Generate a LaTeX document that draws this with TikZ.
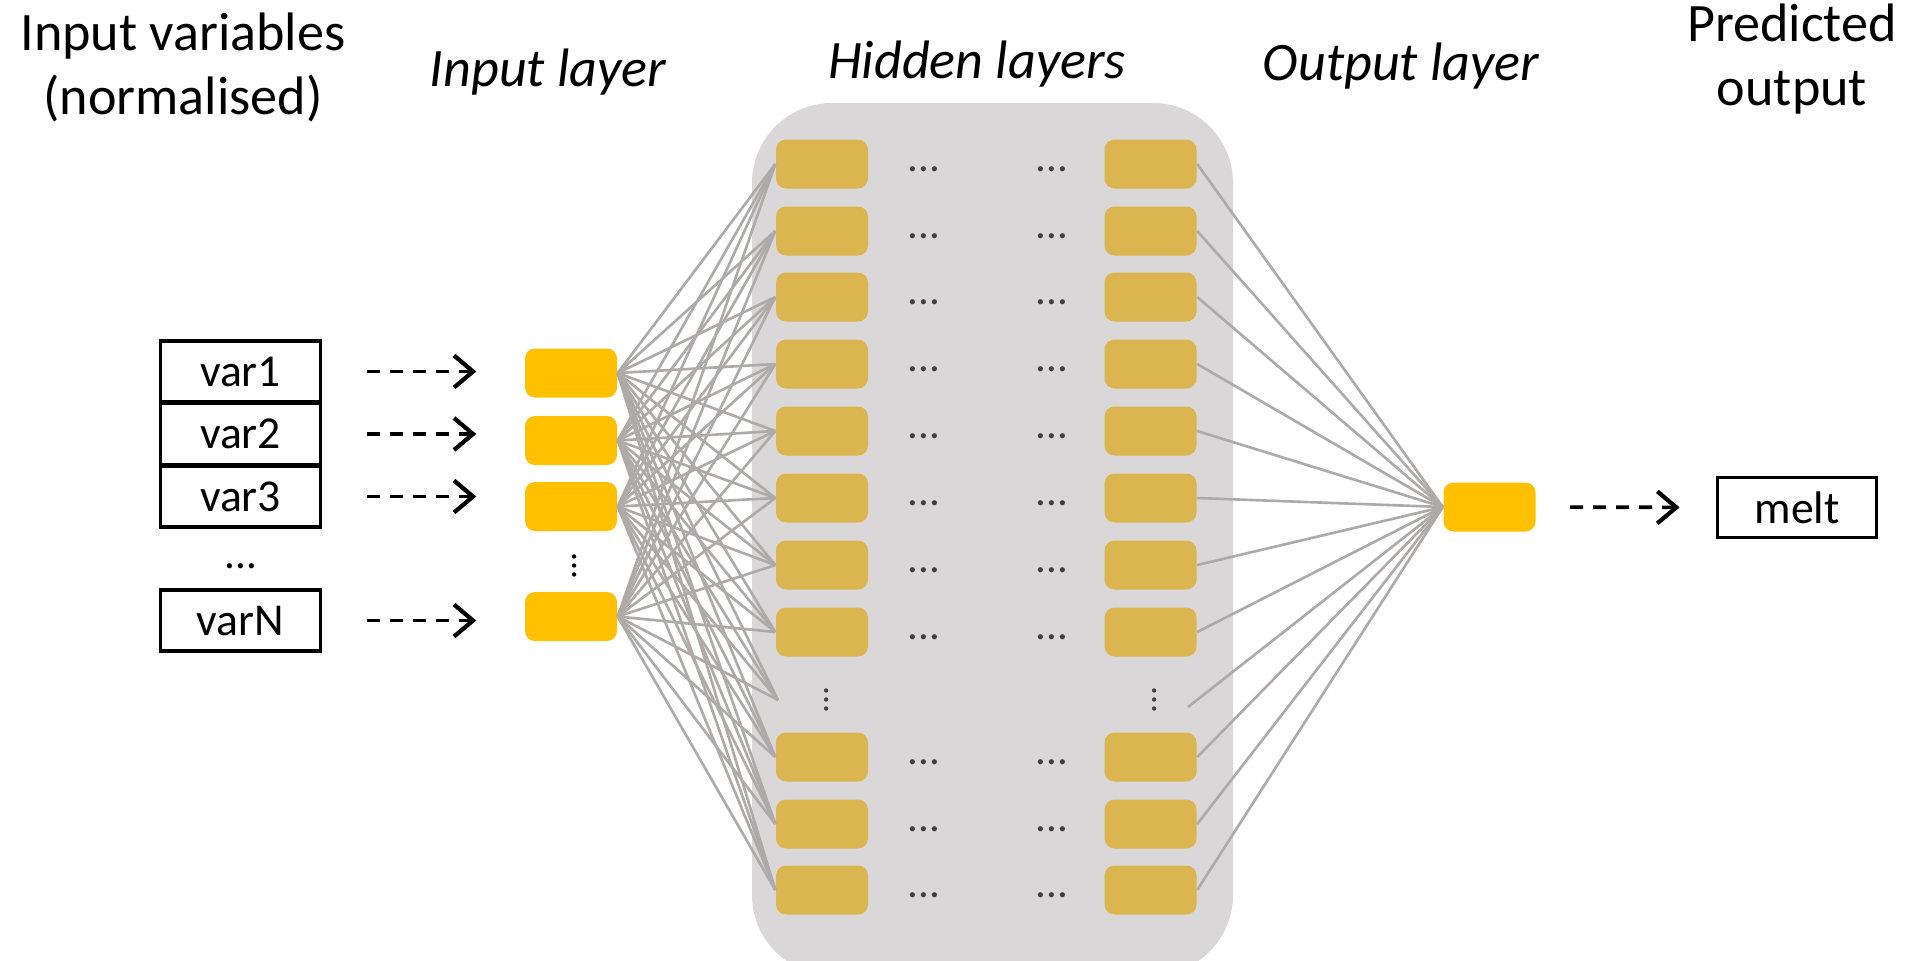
\documentclass[tikz,border=0pt]{standalone}
\usepackage{fontspec}
\setmainfont{Carlito}
\usepackage{tikz}
\usetikzlibrary{arrows.meta}

\definecolor{inyellow}{RGB}{255,192,0}
\definecolor{hidgold}{RGB}{219,182,80}
\definecolor{panelgrey}{RGB}{217,215,216}
\definecolor{linkgrey}{RGB}{174,170,170}
\definecolor{dotgrey}{RGB}{64,64,64}

\begin{document}
\begin{tikzpicture}[x=1cm, y=-1cm,
    varbox/.style={draw=black, line width=1.1pt, minimum width=1.60cm, minimum height=0.61cm, inner sep=0pt, font=\fontsize{13}{15}\selectfont},
    inunit/.style={fill=inyellow, rounded corners=0.1cm, minimum width=0.92cm, minimum height=0.49cm, inner sep=0pt},
    hidunit/.style={inunit, fill=hidgold},
    link/.style={linkgrey, line width=0.75pt},
    feed/.style={line width=1.05pt, dash pattern=on 1.3mm off 1mm, -{Straight Barb[length=1.9mm, width=3.2mm, line width=1.2pt]}},
    title/.style={font=\fontsize{15.4}{18.4}\selectfont, align=center, inner sep=0pt},
    etc/.style={font=\fontsize{12.2}{13}\selectfont, inner sep=0pt, text=dotgrey},
]

\useasboundingbox (0,0) rectangle (19.11,9.60);

% grey panel behind the hidden layers
\fill[panelgrey, rounded corners=0.8cm] (7.52,1.03) rectangle (12.33,9.75);

% titles
{
\node[title, anchor=north] (tvars) at (1.83,0.12) {Input variables\\(normalised)};
\node[title, anchor=base] (tin) at (5.48,0.86) {\itshape Input layer};
\node[title, anchor=base] (thid) at (9.77,0.78) {\itshape Hidden layers};
\node[title, anchor=base] (tout) at (14.01,0.80) {\itshape Output layer};
\node[title, anchor=north] (tpred) at (17.92,0.03) {Predicted\\output};
}

% input variables and input layer
\foreach \i/\lab/\y/\u in {1/var1/3.715/3.73, 2/var2/4.34/4.405, 3/var3/4.965/5.065, 4/varN/6.205/6.165}{
    \node[varbox] (v\i) at (2.405,\y) {\lab};
    \node[inunit] (in\i) at (5.71,\u) {};
    \draw[feed, shorten <=0.45cm, shorten >=0.48cm] (v\i.east) -- (v\i.east -| in\i.west);
}

\node[etc, text=black] (vdots) at (2.41,5.66) {...};
\node[etc, text=black, rotate=90, font=\fontsize{10.2}{11}\selectfont] (indots) at (5.75,5.66) {...};

% hidden layers
\foreach \j/\y in {1/1.64, 2/2.31, 3/2.97, 4/3.64, 5/4.31, 6/4.98, 7/5.65, 8/6.32, 9/7.57, 10/8.24, 11/8.90}{
    \node[hidunit] (hl\j) at (8.22,\y) {};
    \node[hidunit] (hr\j) at (11.505,\y) {};
    \node[etc] at (9.24,\y+0.05) {...};
    \node[etc] at (10.52,\y+0.05) {...};
}

\node[etc, rotate=90, font=\fontsize{10.2}{11}\selectfont] (hldots) at (8.27,7.00) {...};
\node[etc, rotate=90, font=\fontsize{10.2}{11}\selectfont] (hrdots) at (11.55,7.00) {...};
\coordinate (hlin) at (7.78,7.00);
\coordinate (hrout) at (11.88,7.07);

% output layer and prediction
\node[inunit] (out) at (14.895,5.07) {};
\node[varbox, minimum width=1.59cm, minimum height=0.60cm] (melt) at (17.97,5.075) {melt};
\draw[feed, shorten <=0.34cm, shorten >=0.36cm] (out.east) -- (melt.west);

% links
\foreach \i in {1,...,4}{
    \foreach \j in {1,...,11}{
        \draw[link] (in\i.east) -- (hl\j.west);
    }
    \draw[link] (in\i.east) -- (hlin);
}

\foreach \j in {1,...,11}{
    \draw[link] (hr\j.east) -- (out.west);
}
\draw[link] (hrout) -- (out.west);

\end{tikzpicture}
\end{document}
